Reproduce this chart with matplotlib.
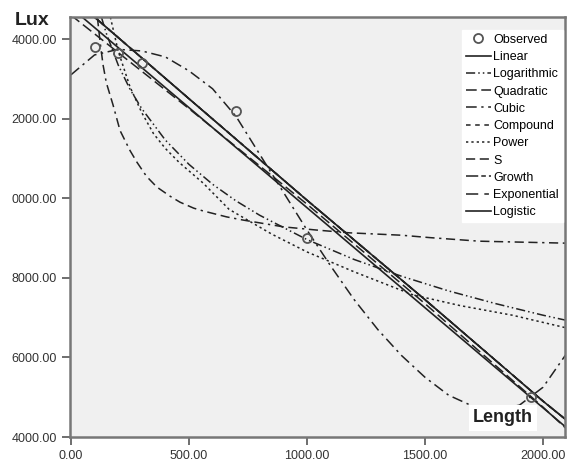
import matplotlib
matplotlib.use('Agg')
import matplotlib.pyplot as plt

# observed points (Length, Lux)
obs_x = [100, 200, 300, 700, 1000, 1950]
obs_y = [13800, 13650, 13400, 12200, 9000, 5000]

# fitted curves, values
lin_x = [0, 2100]
lin_y = [14790, 4230]

quad_x = [0, 500, 1000, 1500, 2000, 2100]
quad_y = [14600, 12250, 9850, 7350, 4750, 4200]

cubic_x = [0, 100, 200, 300, 400, 500, 600, 700, 800, 900, 1000, 1100,
           1200, 1300, 1400, 1500, 1600, 1700, 1800, 1900, 2000, 2100]
cubic_y = [13100, 13600, 13740, 13700, 13550, 13200, 12750, 12050, 11100,
           10150, 9200, 8300, 7450, 6700, 6050, 5500, 5050, 4780, 4680,
           4800, 5250, 6100]

log_x = [129, 150, 200, 250, 300, 400, 500, 600, 700, 800, 1000, 1200,
         1400, 1600, 1800, 2000, 2100]
log_y = [14550, 14140, 13350, 12740, 12250, 11460, 10850, 10350, 9930,
         9570, 8960, 8460, 8040, 7670, 7350, 7060, 6930]

pow_x = [167, 200, 250, 300, 350, 400, 460, 560, 670, 850, 1000, 1200,
         1450, 1650, 1870, 2100]
pow_y = [14550, 13700, 12800, 12150, 11620, 11250, 10890, 10380, 9720,
         9100, 8650, 8150, 7570, 7300, 7060, 6740]

s_x = [112, 123, 136, 150, 178, 208, 250, 280, 320, 364, 420, 462, 520,
       560, 660, 730, 900, 1040, 1180, 1400, 1520, 1730, 2100]
s_y = [14550, 13950, 13350, 12900, 12350, 11700, 11200, 10900, 10550,
       10280, 10050, 9900, 9750, 9680, 9530, 9450, 9280, 9200, 9130, 9070,
       9010, 8920, 8870]

exp_x = [100, 500, 1000, 1500, 2000, 2100]
exp_y = [14550, 12500, 9950, 7450, 4900, 4420]

ink = '#222222'
plt.rcParams['font.family'] = ['Liberation Sans', 'DejaVu Sans']

fig = plt.figure(figsize=(5.68, 4.63), dpi=100)
ax = fig.add_axes([70/568, 1-437/463, 495/568, 420/463])
ax.set_facecolor('#f0f0f0')

ax.plot(obs_x, obs_y, 'o', mfc='none', mec='#555555', ms=6.5, mew=1.3,
        label='Observed', zorder=5)
ax.plot(lin_x, lin_y, color=ink, lw=1.2, label='Linear')
ax.plot(log_x, log_y, color=ink, lw=1.1, dashes=[6, 2, 1, 2, 1, 2],
        label='Logarithmic')
ax.plot(quad_x, quad_y, color=ink, lw=1.1, dashes=[7, 3], label='Quadratic')
ax.plot(cubic_x, cubic_y, color=ink, lw=1.1, dashes=[7, 3, 1.5, 3],
        label='Cubic')
ax.plot(exp_x, exp_y, color=ink, lw=1.1, dashes=[3, 3], label='Compound')
ax.plot(pow_x, pow_y, color=ink, lw=1.1, dashes=[1.5, 2], label='Power')
ax.plot(s_x, s_y, color=ink, lw=1.1, dashes=[6, 3, 6, 3, 1.5, 3], label='S')
ax.plot(exp_x, exp_y, color=ink, lw=1.1, dashes=[8, 2, 3, 2], label='Growth')
ax.plot(exp_x, exp_y, color=ink, lw=1.1, dashes=[8, 4, 3, 4],
        label='Exponential')
ax.plot(exp_x, exp_y, color=ink, lw=1.2, label='Logistic')

ax.set_xlim(-4, 2093)
ax.set_ylim(4000, 14553)
ax.set_xticks([0, 500, 1000, 1500, 2000])
ax.set_xticklabels(['0.00', '500.00', '1000.00', '1500.00', '2000.00'])
yt = [4000, 6000, 8000, 10000, 12000, 14000]
ax.set_yticks(yt)
# labels are cut off at the left edge of the original picture
ax.set_yticklabels([f'{v:.2f}'[-7:] for v in yt])
ax.tick_params(colors='#555555', labelcolor='#333333', labelsize=9,
               length=6, width=1.2)
for s in ax.spines.values():
    s.set_color('#777777')
    s.set_linewidth(1.8)

leg = ax.legend(loc='upper right', bbox_to_anchor=(1.0, 0.975), fontsize=9,
                frameon=True, fancybox=False, handlelength=2.0,
                handletextpad=0.2, labelspacing=0.42, borderpad=0.3,
                borderaxespad=0.2)
leg.get_frame().set_facecolor('white')
leg.get_frame().set_edgecolor('white')
leg.get_frame().set_alpha(1)

fig.text(15/568, 1-25/463, 'Lux', fontsize=14, fontweight='bold',
         color='#222222')
ax.text(0.935, 0.025, 'Length', transform=ax.transAxes, fontsize=13,
        fontweight='bold', color='#222222', ha='right', va='bottom',
        bbox=dict(facecolor='white', edgecolor='none', pad=3))

fig.savefig('out.png', dpi=100)
